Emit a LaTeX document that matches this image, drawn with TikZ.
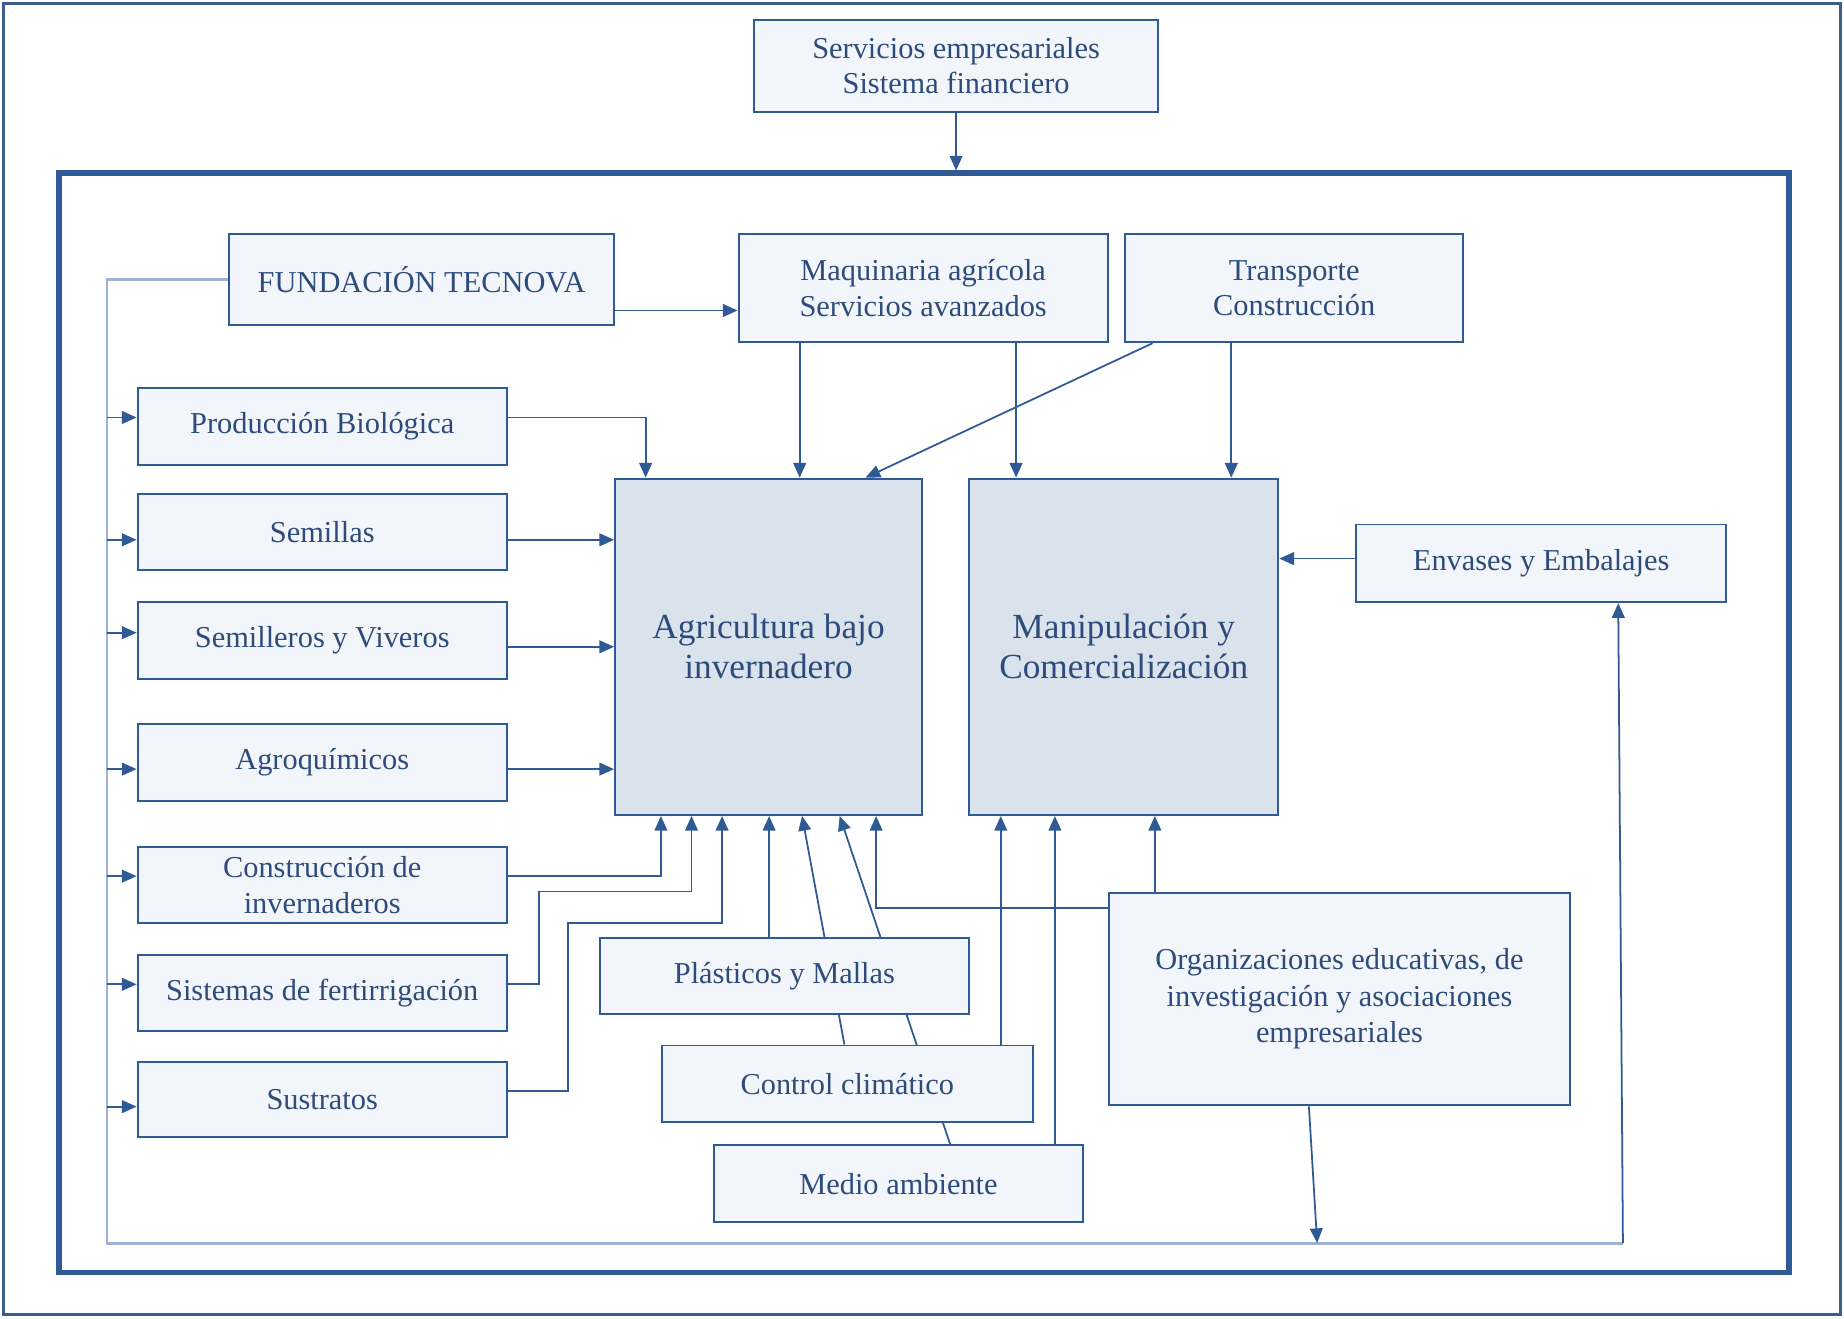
\documentclass[tikz,border=0pt]{standalone}
\usepackage{fontspec}
\setmainfont{Liberation Serif}
\usetikzlibrary{arrows.meta,backgrounds}
\definecolor{lc}{HTML}{2F5A96}
\definecolor{fc}{HTML}{3A5F8C}
\definecolor{tc}{HTML}{2D4C7C}
\definecolor{fl}{HTML}{F2F5FA}
\definecolor{fd}{HTML}{DAE2EC}
\definecolor{bl}{HTML}{9DB2D2}
\begin{document}
\begin{tikzpicture}[x=0.6pt,y=-0.6pt,
  box/.style 2 args={draw=lc, line width=1pt, fill=fl, text=tc, minimum width=#1*0.6pt, minimum height=#2*0.6pt, inner sep=0pt, align=center, font=\fontsize{15.5}{18}\selectfont},
  bigbox/.style 2 args={box={#1}{#2}, fill=fd, font=\fontsize{18}{20.5}\selectfont},
  arr/.style={draw=lc, line width=0.9pt, -{Triangle[length=7.5pt,width=6.5pt]}},
  bus/.style={draw=bl, line width=1.5pt}]
\useasboundingbox (0,0) rectangle (1568,1121);
% frames
\draw[fc, line width=1.6pt] (3,3) rectangle (1565,1118);
\draw[lc, line width=3pt] (50,147) rectangle (1521,1082);
\coordinate (innertop) at (812,145);
\coordinate (busL) at (91,1057);
\coordinate (busR) at (1380,1057);
% nodes
\node[box={344}{78}] (serv) at (813,56) {Servicios empresariales\\Sistema financiero};
\node[box={327}{77}] (fund) at (358.5,237.5) {FUNDACIÓN TECNOVA};
\node[box={314}{92}] (maq) at (785,245) {Maquinaria agrícola\\Servicios avanzados};
\node[box={287}{92}] (trans) at (1100.5,245) {Transporte\\Construcción};
\node[box={314}{65}] (prod) at (274,362.5) {Producción Biológica};
\node[box={314}{65}] (sem) at (274,452.5) {Semillas};
\node[box={314}{65}] (semv) at (274,544.5) {Semilleros y Viveros};
\node[box={314}{65}] (agro) at (274,648.5) {Agroquímicos};
\node[box={314}{65}] (cons) at (274,752.5) {Construcción de\\invernaderos};
\node[box={314}{65}] (sist) at (274,844.5) {Sistemas de fertirrigación};
\node[box={314}{64}] (sust) at (274,935) {Sustratos};
\node[bigbox={261}{286}] (agri) at (653.5,550) {Agricultura bajo\\invernadero};
\node[bigbox={263}{286}] (mani) at (955.5,550) {Manipulación y\\Comercialización};
\node[box={315}{66}] (env) at (1310.5,479) {Envases y Embalajes};
\node[box={314}{64}] (plas) at (667,830) {Plásticos y Mallas};
\node[box={315}{65}] (ctrl) at (720.5,921.5) {Control climático};
\node[box={314}{65}] (medio) at (764,1006.5) {Medio ambiente};
\node[box={392}{181}, font=\fontsize{15.5}{18.6}\selectfont] (org) at (1139,849.5) {Organizaciones educativas, de\\investigación y asociaciones\\empresariales};
% connectors
\begin{pgfonlayer}{background}
\draw[arr] (serv.south) -- (serv.south |- innertop);
\draw[bus] (fund.west |- 0,238) -- (busL |- 0,238) -- (busL) -- (busR);
\draw[arr] (busR) -- (1376,0 |- env.south);
\draw[arr] (busL |- 0,355) -- (prod.west |- 0,355);
\draw[arr] (busL |- 0,459) -- (sem.west |- 0,459);
\draw[arr] (busL |- 0,538) -- (semv.west |- 0,538);
\draw[arr] (busL |- 0,654) -- (agro.west |- 0,654);
\draw[arr] (busL |- 0,745) -- (cons.west |- 0,745);
\draw[arr] (busL |- 0,837) -- (sist.west |- 0,837);
\draw[arr] (busL |- 0,941) -- (sust.west |- 0,941);
\draw[arr] (fund.east |- 0,264) -- (maq.west |- 0,264);
\draw[arr] (prod.east |- 0,355) -- (549,355) -- (549,0 |- agri.north);
\draw[arr] (sem.east |- 0,459) -- (agri.west |- 0,459);
\draw[arr] (semv.east |- 0,550) -- (agri.west |- 0,550);
\draw[arr] (agro.east |- 0,654) -- (agri.west |- 0,654);
\draw[arr] (cons.east |- 0,745) -- (562,745) -- (562,0 |- agri.south);
\draw[arr] (sist.east |- 0,837) -- (458,837) -- (458,758) -- (588,758) -- (588,0 |- agri.south);
\draw[arr] (sust.east |- 0,928) -- (483,928) -- (483,785) -- (614,785) -- (614,0 |- agri.south);
\draw[arr] (654,0 |- plas.north) -- (654,0 |- agri.south);
\draw[arr] (718,0 |- ctrl.north) -- (682,0 |- agri.south);
\draw[arr] (808,0 |- medio.north) -- (714,0 |- agri.south);
\draw[arr] (org.west |- 0,772) -- (745,772) -- (745,0 |- agri.south);
\draw[arr] (851,0 |- ctrl.north) -- (851,0 |- mani.south);
\draw[arr] (897,0 |- medio.north) -- (897,0 |- mani.south);
\draw[arr] (982,0 |- org.north) -- (982,0 |- mani.south);
\draw[arr] (1113,0 |- org.south) -- (1120,0 |- busR);
\draw[arr] (env.west |- 0,475) -- (mani.east |- 0,475);
\draw[arr] (680,0 |- maq.south) -- (680,0 |- agri.north);
\draw[arr] (864,0 |- maq.south) -- (864,0 |- mani.north);
\draw[arr] (980,0 |- trans.south) -- (736,0 |- agri.north);
\draw[arr] (1047,0 |- trans.south) -- (1047,0 |- mani.north);
\end{pgfonlayer}
\end{tikzpicture}
\end{document}
